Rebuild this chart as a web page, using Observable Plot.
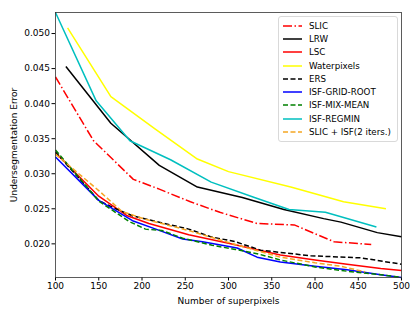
<!DOCTYPE html>
<html>
<head>
<meta charset="utf-8">
<script src="https://cdn.jsdelivr.net/npm/d3@7"></script>
<script src="https://cdn.jsdelivr.net/npm/@observablehq/plot@0.6"></script>
<style>
  html, body { margin: 0; padding: 0; background: #fff; }
  #wrap { position: relative; width: 420px; height: 315px; font-family: "DejaVu Sans", sans-serif; }
  #legend { position: absolute; left: 278px; top: 16px; width: 118px; border: 1px solid #d9d9d9; border-radius: 3px; background: rgba(255,255,255,0.85); padding: 2px 0 2px 0; font-size: 8.7px; color: #000; }
  .item { display: flex; align-items: center; height: 13.3px; }
  .item svg { margin-left: 4px; margin-right: 6px; }
</style>
</head>
<body>
<div id="wrap"><div id="chart"></div><div id="legend"></div></div>
<script>
// Series names (legend order)
const names = ["SLIC", "LRW", "LSC", "Waterpixels", "ERS", "ISF-GRID-ROOT", "ISF-MIX-MEAN", "ISF-REGMIN", "SLIC + ISF(2 iters.)"];
const colors = ["#ff0000", "#000000", "#ff0000", "#ffff00", "#000000", "#0000ff", "#008000", "#00bfbf", "#f5a623"];
const dashes = ["9,2.5,1.5,2.5", null, null, null, "5,2.5", null, "5,2.5", null, "5,2.5"];

// Values
const slicX = [100, 144, 190, 220, 256, 290, 333, 376, 422, 465];
const slicY = [0.0438, 0.0347, 0.0292, 0.0278, 0.0260, 0.0245, 0.0229, 0.0227, 0.0203, 0.0199];
const lrwX = [112, 164, 220, 264, 316, 364, 410, 430, 472, 500];
const lrwY = [0.0453, 0.0372, 0.0312, 0.0281, 0.0266, 0.0249, 0.0236, 0.0231, 0.0216, 0.0210];
const lscX = [100, 150, 183, 208, 254, 300, 360, 400, 437, 476, 500];
const lscY = [0.0330, 0.0268, 0.0240, 0.0229, 0.0213, 0.0201, 0.0184, 0.0177, 0.0171, 0.0165, 0.0162];
const waterX = [114, 164, 215, 264, 300, 372, 401, 433, 482];
const waterY = [0.0508, 0.0410, 0.0364, 0.0321, 0.0303, 0.0281, 0.0271, 0.0260, 0.0250];
const ersX = [100, 150, 166, 189, 216, 254, 280, 308, 337, 395, 453, 500];
const ersY = [0.0331, 0.0262, 0.0252, 0.0240, 0.0232, 0.0221, 0.0210, 0.0203, 0.0191, 0.0183, 0.0180, 0.0171];
const gridX = [100, 150, 189, 216, 247, 270, 310, 333, 360, 400, 437, 476, 500];
const gridY = [0.0324, 0.0262, 0.0233, 0.0221, 0.0207, 0.0203, 0.0194, 0.0181, 0.0174, 0.0168, 0.0163, 0.0156, 0.0152];
const mixX = [100, 150, 185, 204, 223, 247, 281, 308, 333, 360, 400, 437, 476, 500];
const mixY = [0.0334, 0.0261, 0.0232, 0.0221, 0.0219, 0.0208, 0.0198, 0.0192, 0.0186, 0.0177, 0.0167, 0.0161, 0.0156, 0.0152];
const regminX = [100, 147, 186, 233, 280, 330, 370, 412, 471];
const regminY = [0.0530, 0.0404, 0.0347, 0.0320, 0.0288, 0.0266, 0.0249, 0.0245, 0.0224];
const slicIsfX = [100, 150, 177, 204, 254, 308, 360, 400, 430, 458];
const slicIsfY = [0.0328, 0.0276, 0.0246, 0.0235, 0.0219, 0.0199, 0.0181, 0.0173, 0.0168, 0.0160];

const xTicks = [100, 150, 200, 250, 300, 350, 400, 450, 500];
const yTicks = [0.020, 0.025, 0.030, 0.035, 0.040, 0.045, 0.050];

const seriesX = [slicX, lrwX, lscX, waterX, ersX, gridX, mixX, regminX, slicIsfX];
const seriesY = [slicY, lrwY, lscY, waterY, ersY, gridY, mixY, regminY, slicIsfY];

const lineMarks = names.map((name, i) => {
  const data = seriesX[i].map((x, j) => ({x, y: seriesY[i][j], name}));
  const opts = {x: "x", y: "y", stroke: colors[i], strokeWidth: 1.5, strokeLinecap: "butt", strokeLinejoin: "round"};
  if (dashes[i]) opts.strokeDasharray = dashes[i];
  return Plot.line(data, opts);
});

const chart = Plot.plot({
  width: 420,
  height: 315,
  marginLeft: 55,
  marginRight: 19,
  marginTop: 12,
  marginBottom: 38,
  style: {fontFamily: "DejaVu Sans, sans-serif", fontSize: "9px", color: "#000", background: "#fff"},
  x: {domain: [100, 500], ticks: xTicks, tickFormat: d3.format("d"), tickSize: 3.5, tickPadding: 2,
      label: "Number of superpixels", labelAnchor: "center", labelArrow: "none", labelOffset: 26},
  y: {domain: [0.0152, 0.0530], ticks: yTicks, tickFormat: d3.format(".3f"), tickSize: 3.5, tickPadding: 2,
      label: "Undersegmentation Error", labelAnchor: "center", labelArrow: "none", labelOffset: 45},
  marks: [
    ...lineMarks,
    Plot.frame({stroke: "#333", strokeWidth: 0.8})
  ]
});
document.getElementById("chart").appendChild(chart);

// Legend built from the same arrays
const legend = d3.select("#legend");
names.forEach((name, i) => {
  const row = legend.append("div").attr("class", "item");
  const svg = row.append("svg").attr("width", 20).attr("height", 6);
  const ln = svg.append("line").attr("x1", 0).attr("x2", 19).attr("y1", 3).attr("y2", 3)
    .attr("stroke", colors[i]).attr("stroke-width", 1.5);
  if (dashes[i]) ln.attr("stroke-dasharray", dashes[i]);
  row.append("span").text(name);
});
</script>
</body>
</html>
